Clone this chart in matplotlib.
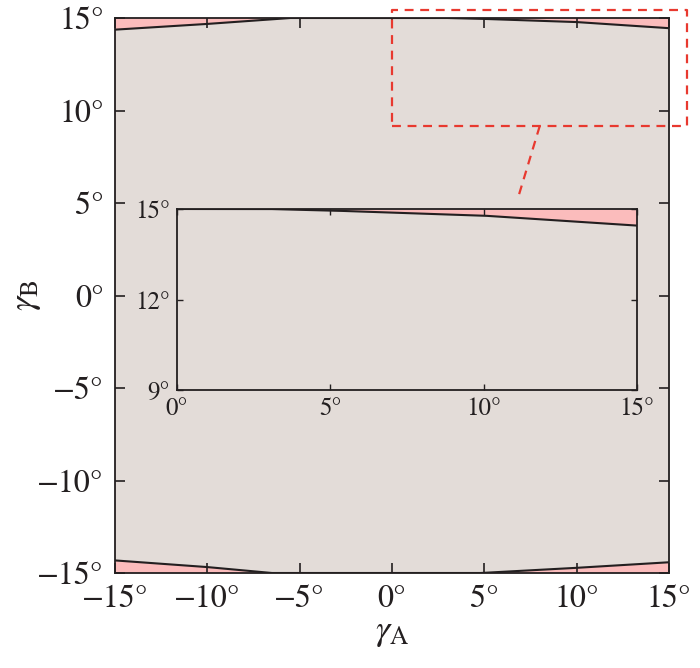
import matplotlib
matplotlib.use('Agg')
import matplotlib.pyplot as plt
import numpy as np

plt.rcParams['font.family'] = ['STIXGeneral', 'DejaVu Serif']
plt.rcParams['mathtext.fontset'] = 'stix'

# boundary curves of the feasible region (deg)
top_x = [-15, -10, -5.5, 0, 3, 5, 10, 15]
top_y = [14.37, 14.68, 15.0, 15.0, 15.0, 14.95, 14.78, 14.45]
bot_x = [-15, -10, -6.5, 0, 4.8, 10, 15]
bot_y = [-14.32, -14.68, -15.0, -15.0, -15.0, -14.72, -14.42]

ticks_main = [-15, -10, -5, 0, 5, 10, 15]
ticks_in_x = [0, 5, 10, 15]
ticks_in_y = [9, 12, 15]

grey = '#e3dcd8'
pink = '#fbbcbc'
red = '#e8392f'
dark = '#231f20'

def deg(v):
    return ('\u2212' if v < 0 else '') + '%d\u00b0' % abs(v)

fig = plt.figure(figsize=(7, 6.68), dpi=100)
ax = fig.add_axes([115/700, 1-573/668, (669-115)/700, (573-18)/668])
ax.set_facecolor('white')
ax.fill_between([-15, 15], [-15, -15], [15, 15], color=pink, lw=0)
xs = np.linspace(-15, 15, 301)
ty = np.interp(xs, top_x, top_y)
by = np.interp(xs, bot_x, bot_y)
ax.fill_between(xs, by, ty, color=grey, lw=0)
ax.plot(top_x, top_y, color=dark, lw=1.5)
ax.plot(bot_x, bot_y, color=dark, lw=1.5)
ax.set_xlim(-15, 15)
ax.set_ylim(-15, 15)
ax.set_xticks(ticks_main)
ax.set_yticks(ticks_main)
ax.set_xticklabels([deg(t) for t in ticks_main])
ax.set_yticklabels([deg(t) for t in ticks_main])
ax.tick_params(direction='in', length=7, width=1.2, top=True, right=True,
               labelsize=23, pad=8, colors=dark)
for s in ax.spines.values():
    s.set_linewidth(1.3)
    s.set_color(dark)
ax.set_xlabel(r'$\gamma_\mathrm{A}$', fontsize=26, labelpad=2, color=dark)
ax.set_ylabel(r'$\gamma_\mathrm{B}$', fontsize=26, labelpad=-4, color=dark)

# zoom rectangle and connector
ax.plot([0, 16, 16, 0, 0], [9.16, 9.16, 15.43, 15.43, 9.16], ls=(0, (4, 3)),
        color=red, lw=1.6, clip_on=False)
ax.plot([8.0, 6.8], [9.16, 5.2], ls=(0, (4, 3)), color=red, lw=1.6)

# inset
ins = fig.add_axes([177/700, 1-390/668, (637-177)/700, (390-209)/668])
ins.set_facecolor(grey)
ix = np.linspace(0, 15, 151)
iy = np.interp(ix, top_x, top_y)
ins.fill_between(ix, iy, 15, color=pink, lw=0)
ins.plot(ix, iy, color=dark, lw=1.5)
ins.set_xlim(0, 15)
ins.set_ylim(9, 15)
ins.set_xticks(ticks_in_x)
ins.set_yticks(ticks_in_y)
ins.set_xticklabels([deg(t) for t in ticks_in_x])
ins.set_yticklabels([deg(t) for t in ticks_in_y])
ins.tick_params(direction='in', length=4, width=1, top=True, right=True,
                labelsize=18, pad=5, colors=dark)
for s in ins.spines.values():
    s.set_linewidth(1.3)
    s.set_color(dark)

plt.savefig('out.png', dpi=100)
